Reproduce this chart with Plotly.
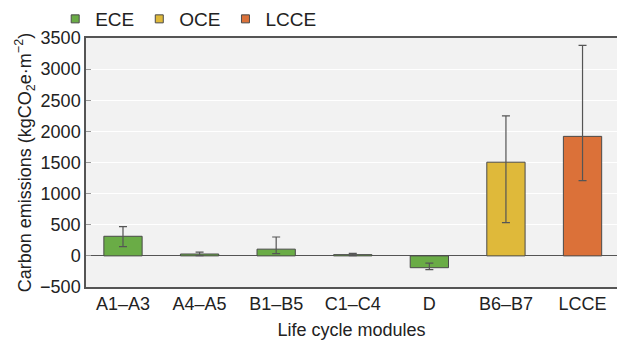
import plotly.graph_objects as go

categories = ["A1–A3", "A4–A5", "B1–B5", "C1–C4", "D", "B6–B7", "LCCE"]
values = [315, 30, 108, 20, -190, 1505, 1920]
err_upper = [470, 60, 303, 40, -118, 2250, 3380]
err_lower = [150, 5, 35, 5, -220, 535, 1210]
groups = ["ECE", "ECE", "ECE", "ECE", "ECE", "OCE", "LCCE"]
group_names = ["ECE", "OCE", "LCCE"]
group_colors = {"ECE": "#6aac46", "OCE": "#dfb93a", "LCCE": "#db7139"}

fig = go.Figure()
for g in group_names:
    idx = [i for i, gg in enumerate(groups) if gg == g]
    fig.add_trace(go.Bar(
        x=[categories[i] for i in idx],
        y=[values[i] for i in idx],
        name=g, showlegend=False,
        width=0.5,
        marker=dict(color=group_colors[g], line=dict(color="#4a4a4a", width=1)),
        error_y=dict(
            type="data", symmetric=False,
            array=[err_upper[i] - values[i] for i in idx],
            arrayminus=[values[i] - err_lower[i] for i in idx],
            color="#555555", thickness=1.2, width=4,
        ),
    ))
    # legend entry with small square marker
    fig.add_trace(go.Scatter(
        x=[None], y=[None], mode="markers", name=g,
        marker=dict(symbol="square", size=8, color=group_colors[g],
                    line=dict(color="#4a4a4a", width=1)),
    ))

fig.update_layout(
    width=617, height=345,
    margin=dict(l=86, r=0, t=28, b=58),
    paper_bgcolor="white", plot_bgcolor="#f2f2f2",
    font=dict(family="Liberation Sans, Arial, sans-serif", size=18, color="#222222"),
    legend=dict(orientation="h", x=-0.058, xanchor="left", y=1.0, yanchor="bottom",
                font=dict(size=19), itemwidth=30, tracegroupgap=0,
                bgcolor="rgba(0,0,0,0)"),
    showlegend=True,
)
fig.update_xaxes(
    categoryorder="array", categoryarray=categories,
    range=[-0.483, 6.45],
    showline=True, linecolor="#555555", linewidth=1.5, mirror=True,
    ticks="", showgrid=False,
    title=dict(text="Life cycle modules", font=dict(size=18), standoff=10),
    tickfont=dict(size=18),
)
fig.update_yaxes(
    range=[-500, 3500], tickvals=[-500, 0, 500, 1000, 1500, 2000, 2500, 3000, 3500],
    ticktext=["−500", "0", "500", "1000", "1500", "2000", "2500", "3000", "3500"],
    showline=True, linecolor="#555555", linewidth=1.5, mirror=False,
    showgrid=True, gridcolor="white", gridwidth=1,
    zeroline=True, zerolinecolor="#555555", zerolinewidth=1.2,
    ticks="inside", ticklen=5, tickcolor="#999999",
    title=dict(text="Carbon emissions (kgCO<sub>2</sub>e·m<sup>−2</sup>)", font=dict(size=18), standoff=4),
    tickfont=dict(size=18),
)
fig.write_html("out.html")
